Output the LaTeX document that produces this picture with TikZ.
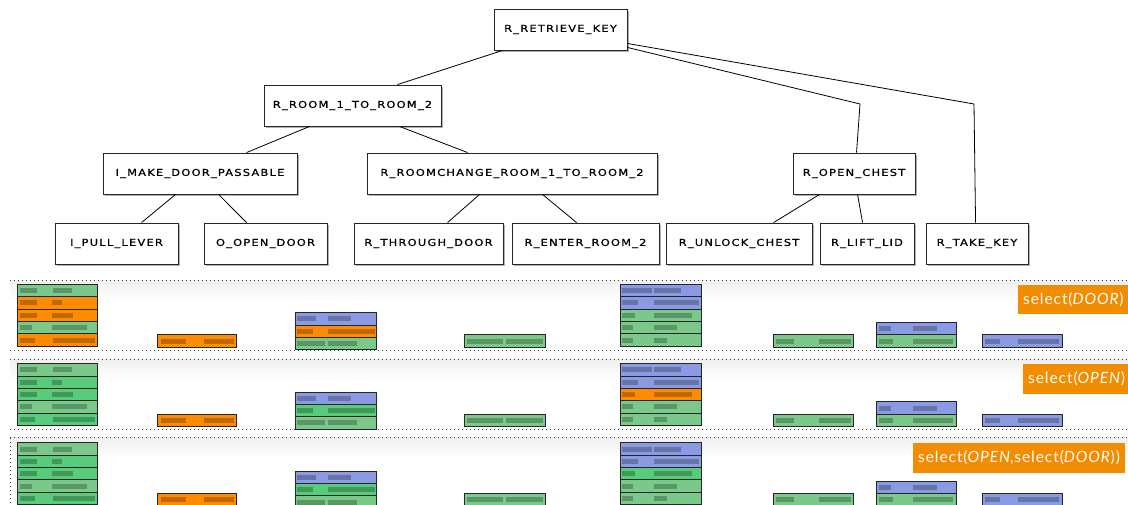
\documentclass[tikz,border=0pt]{standalone}
\usepackage{fontspec}
\setmainfont{Lato}
\newfontfamily\nodefont[FakeStretch=1.2,LetterSpace=13,FakeBold=0.8]{DejaVu Sans}
\usetikzlibrary{shadows,calc}
\definecolor{gr}{HTML}{7AC98A}
\definecolor{bg}{HTML}{58CC7A}
\definecolor{or}{HTML}{FF8C00}
\definecolor{bl}{HTML}{8A9BE4}
\definecolor{lab}{HTML}{F28C00}
\newcommand\stackrow[8]{%
  \filldraw[fill=#4,draw=black!85,line width=.8pt] (#1,#3) rectangle (#2,#3+12.35);
  \fill[black,opacity=.25] (#5,#3+3.8) rectangle (#6,#3+8.8);
  \fill[black,opacity=.25] (#7,#3+3.8) rectangle (#8,#3+8.8);}
\newcommand\lanestacks[5]{%
  % A
  \stackrow{17}{97}{284.3}{gr}{20}{37}{53}{72}
  \stackrow{17}{97}{296.65}{#1}{20}{37}{52}{62}
  \stackrow{17}{97}{309.0}{#2}{20}{37}{52}{73}
  \stackrow{17}{97}{321.35}{gr}{20}{32}{52}{87}
  \stackrow{17}{97}{333.7}{#3}{20}{35}{53}{95}
  % B
  \stackrow{157}{236}{334.8}{or}{161}{186}{204}{234}
  % C
  \stackrow{295}{376}{312.6}{bl}{297}{316}{328}{351}
  \stackrow{295}{376}{324.95}{#4}{297}{313}{328}{375}
  \stackrow{295}{376}{337.3}{gr}{297}{325}{328}{357}
  % D
  \stackrow{464}{545}{334.8}{gr}{467}{503}{506}{543}
  % E
  \stackrow{620}{701}{284.3}{bl}{622}{652}{654}{681}
  \stackrow{620}{701}{296.65}{bl}{622}{638}{654}{699}
  \stackrow{620}{701}{309.0}{#5}{622}{635}{654}{692}
  \stackrow{620}{701}{321.35}{gr}{622}{633}{654}{677}
  \stackrow{620}{701}{333.7}{gr}{622}{633}{654}{667}
  % F
  \stackrow{773}{853}{334.8}{gr}{776}{794}{819}{851}
  % G
  \stackrow{876}{956}{322.4}{bl}{879}{891}{913}{937}
  \stackrow{876}{956}{334.75}{gr}{879}{893}{913}{953}
  % H
  \stackrow{982}{1062}{334.8}{bl}{985}{1000}{1018}{1059}
}
\begin{document}
\begin{tikzpicture}[x=1pt,y=-1pt,
  tnode/.style={draw=black!85,line width=0.9pt,fill=white,minimum height=41pt,
    inner sep=0pt,font=\nodefont\fontsize{9.5}{10}\selectfont,
    drop shadow={shadow xshift=1.5pt,shadow yshift=-2pt,opacity=.3,fill=black}},
  edge/.style={draw=black,line width=0.8pt},
  dotline/.style={draw=black!75,line width=.9pt,dash pattern=on 1pt off 3pt},
  lab/.style={fill=lab,text=white,anchor=west,minimum height=29.5pt,inner xsep=5pt,
    inner ysep=0pt,font=\addfontfeatures{LetterSpace=6}\fontsize{15.5}{17}\selectfont}]
\useasboundingbox (0,0) rectangle (1128,504);
\fill[white] (0,0) rectangle (1128,504);

% lanes
\foreach \t/\b in {280/350, 359.3/429.3, 437.6/510}{
  \shade[top color=black!6,bottom color=white] (10,\t) rectangle (1128,\t+20);
  \draw[dotline] (10,\t) -- (1128,\t);
  \draw[dotline] (10,\b) -- (1128,\b);
}
\draw[dotline] (10,437.6) -- (10,504);

% stacks
\lanestacks{or}{or}{or}{or}{gr}
\begin{scope}[yshift=-79.3pt]
\lanestacks{bg}{bg}{bg}{bg}{or}
\end{scope}
\begin{scope}[yshift=-158.5pt]
\lanestacks{bg}{bg}{bg}{bg}{bg}
\end{scope}

% labels
\node[lab] (l1) at (1018,299.5) {select(\textit{DOOR})};
\node[lab] (l2) at (1023,379) {select(\textit{OPEN})};
\node[lab] (l3) at (913,458) {select(\textit{OPEN},select(\textit{DOOR}))};

% tree nodes
\node[tnode,minimum width=133pt] (rk) at (560.5,29.5) {R\_RETRIEVE\_KEY};
\node[tnode,minimum width=177pt] (rr) at (352.5,105.5) {R\_ROOM\_1\_TO\_ROOM\_2};
\node[tnode,minimum width=194pt] (im) at (200,173.5) {I\_MAKE\_DOOR\_PASSABLE};
\node[tnode,minimum width=290pt] (rc) at (512,173.5) {R\_ROOMCHANGE\_ROOM\_1\_TO\_ROOM\_2};
\node[tnode,minimum width=122pt] (oc) at (854,173.5) {R\_OPEN\_CHEST};
\node[tnode,minimum width=123pt] (pl) at (116.5,243.5) {I\_PULL\_LEVER};
\node[tnode,minimum width=123pt] (od) at (265.5,243.5) {O\_OPEN\_DOOR};
\node[tnode,minimum width=149pt] (td) at (428.5,243.5) {R\_THROUGH\_DOOR};
\node[tnode,minimum width=147pt] (er) at (585.5,243.5) {R\_ENTER\_ROOM\_2};
\node[tnode,minimum width=146pt] (uc) at (739,243.5) {R\_UNLOCK\_CHEST};
\node[tnode,minimum width=94pt] (ll) at (867,243.5) {R\_LIFT\_LID};
\node[tnode,minimum width=102pt] (tk) at (977,243.5) {R\_TAKE\_KEY};

\coordinate (b1) at (860,104);
\coordinate (b2) at (974,104);

% connectors
\draw[edge] ([xshift=9pt]rk.south west) -- ([xshift=134pt]rr.north west);
\draw[edge] ([xshift=46pt]rr.south west) -- ([xshift=144pt]im.north west);
\draw[edge] ([xshift=136pt]rr.south west) -- ([xshift=101pt]rc.north west);
\draw[edge] ([xshift=73pt]im.south west) -- ([xshift=87pt]pl.north west);
\draw[edge] ([xshift=116pt]im.south west) -- ([xshift=43pt]od.north west);
\draw[edge] ([xshift=113pt]rc.south west) -- ([xshift=94pt]td.north west);
\draw[edge] ([xshift=176pt]rc.south west) -- ([xshift=65pt]er.north west);
\draw[edge] ([xshift=27pt]oc.south west) -- ([xshift=108pt]uc.north west);
\draw[edge] ([xshift=65pt]oc.south west) -- ([xshift=43pt]ll.north west);
\draw[edge] ([yshift=3pt]rk.south east) -- (b1) -- ([xshift=64pt]oc.north west);
\draw[edge] ([yshift=7pt]rk.south east) -- (b2) -- ([xshift=50pt]tk.north west);
\end{tikzpicture}
\end{document}
